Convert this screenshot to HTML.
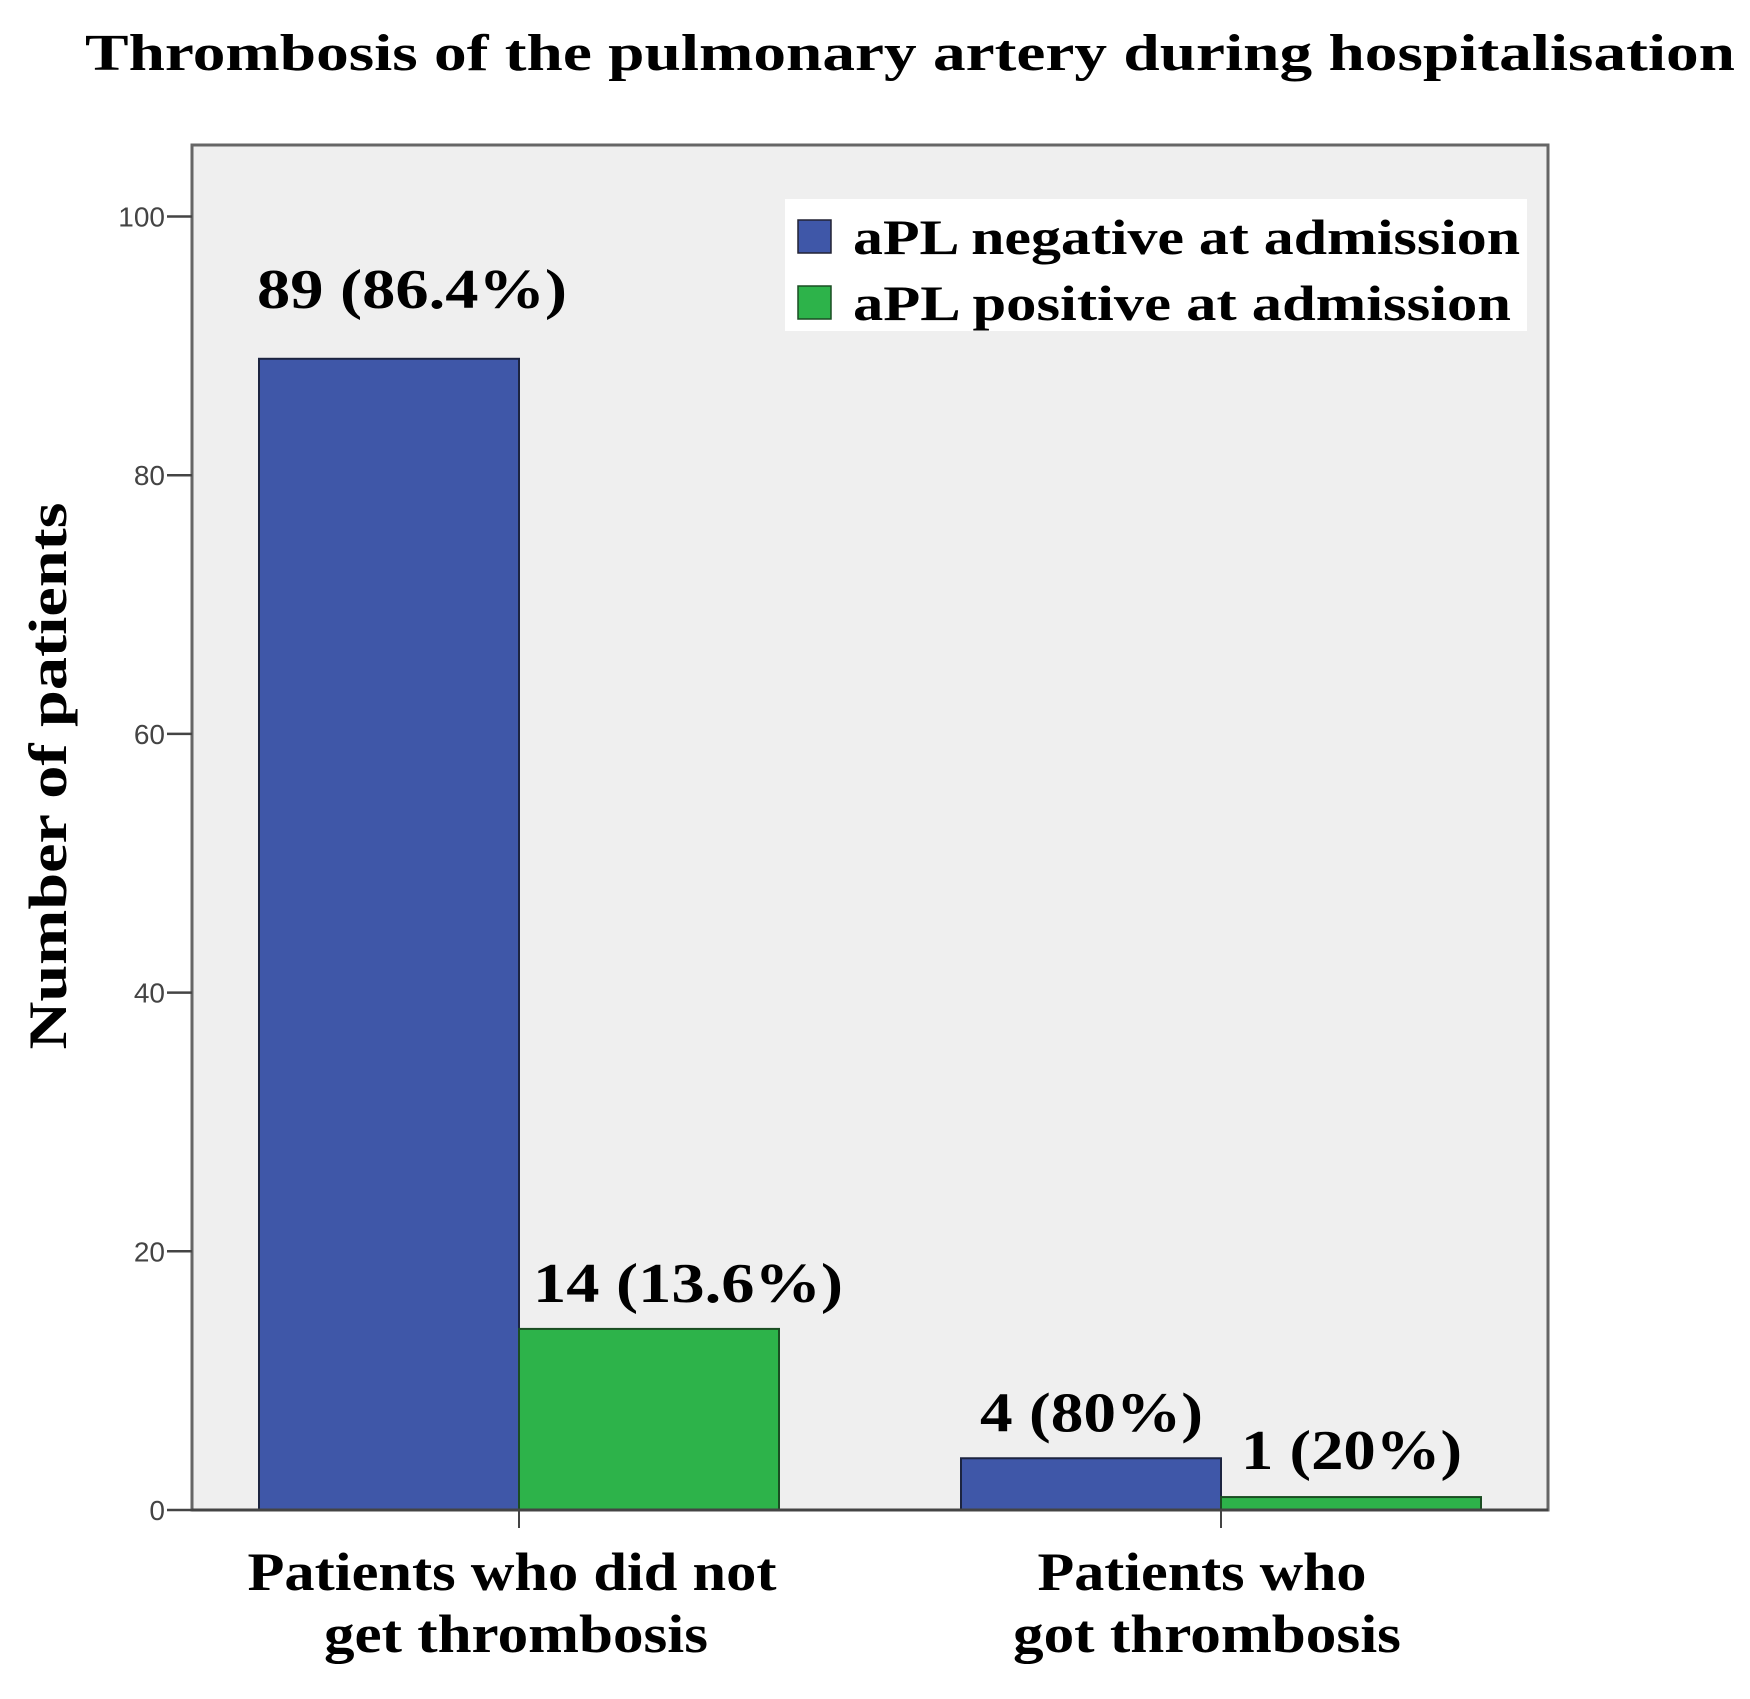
<!DOCTYPE html>
<html><head><meta charset="utf-8"><style>
html,body{margin:0;padding:0;background:#fff;}
svg{display:block;}
text{font-family:"Liberation Serif",serif;}
</style></head><body>
<svg id="chart" width="1750" height="1699" viewBox="0 0 1750 1699">
<text x="910" y="70" text-anchor="middle" font-size="52" font-weight="bold" textLength="1650" lengthAdjust="spacingAndGlyphs">Thrombosis of the pulmonary artery during hospitalisation</text>
<rect x="192" y="145" width="1356" height="1365" fill="#efefef" stroke="#666" stroke-width="3"/>
<g id="yaxis"></g>
<g id="bars"></g>
<g id="xaxis"></g>
<text transform="translate(66,776) rotate(-90)" text-anchor="middle" font-size="54" font-weight="bold" textLength="547" lengthAdjust="spacingAndGlyphs">Number of patients</text>
<g>
<rect x="785" y="199" width="742" height="132" fill="#fff"/>
<rect x="798" y="220" width="33" height="33" fill="#3f57a8" stroke="#223" stroke-width="1.5"/>
<text x="853" y="254" font-size="50" font-weight="bold" textLength="667" lengthAdjust="spacingAndGlyphs">aPL negative at admission</text>
<rect x="798" y="286" width="33" height="33" fill="#2db34a" stroke="#1a4d22" stroke-width="1.5"/>
<text x="853" y="320" font-size="50" font-weight="bold" textLength="658" lengthAdjust="spacingAndGlyphs">aPL positive at admission</text>
</g>
</svg>
<script>
const categories = [["Patients who did not","get thrombosis"],["Patients who","got thrombosis"]];
const negativeValues = [89, 4];
const positiveValues = [14, 1];
const negativeLabels = ["89 (86.4%)", "4 (80%)"];
const positiveLabels = ["14 (13.6%)", "1 (20%)"];
const yTicks = [0, 20, 40, 60, 80, 100];

const NS = "http://www.w3.org/2000/svg";
const y0 = 1510, y100 = 216.5;
function yScale(v){ return y0 - (y0 - y100) * v / 100; }
const catCenters = [519, 1221];
const barW = 260;
// layout tweaks (not data)
const negLabelLayout = [{dx:-2, w:310, up:51}, {dx:19, w:223, up:27}];
const posLabelLayout = [{dx:14, w:310, up:27}, {dx:20, w:221, up:28}];
const catLabelLayout = [[{c:512, w:529}, {c:516, w:384}], [{c:1202, w:329}, {c:1207, w:388}]];
function mk(tag, attrs, parent, text){
  const e = document.createElementNS(NS, tag);
  for (const k in attrs) e.setAttribute(k, attrs[k]);
  if (text !== undefined) e.textContent = text;
  parent.appendChild(e);
  return e;
}
const yaxis = document.getElementById('yaxis');
yTicks.forEach(t => {
  const y = yScale(t);
  const l = mk('line', {x1:167, x2:192, y1:y, y2:y, stroke:'#444', 'stroke-width':2.5}, yaxis);
  
  
  const tx = mk('text', {x:165, y:y+10, 'text-anchor':'end', 'font-size':28, fill:'#444', style:'font-family:"Liberation Sans",sans-serif'}, yaxis, String(t));
  
  
});
const bars = document.getElementById('bars');
categories.forEach((c, i) => {
  const cx = catCenters[i];
  const yn = yScale(negativeValues[i]);
  const b1 = mk('rect', {x:cx-barW, y:yn, width:barW, height:y0-yn, fill:'#3f57a8', stroke:'#1c2440', 'stroke-width':2}, bars);
  
  
  const yp = yScale(positiveValues[i]);
  const b2 = mk('rect', {x:cx, y:yp, width:barW, height:y0-yp, fill:'#2db34a', stroke:'#1a4d22', 'stroke-width':2}, bars);
  
  
  const nl = negLabelLayout[i];
  const l1 = mk('text', {x:cx-barW+nl.dx, y:yn-nl.up, 'font-size':56, 'font-weight':'bold', textLength:nl.w, lengthAdjust:'spacingAndGlyphs'}, bars, negativeLabels[i]);
  
  
  const pl = posLabelLayout[i];
  const l2 = mk('text', {x:cx+pl.dx, y:yp-pl.up, 'font-size':56, 'font-weight':'bold', textLength:pl.w, lengthAdjust:'spacingAndGlyphs'}, bars, positiveLabels[i]);
  
  
});
const xaxis = document.getElementById('xaxis');
const base = mk('line', {x1:192, x2:1548, y1:y0, y2:y0, stroke:'#444', 'stroke-width':3}, xaxis);


categories.forEach((c, i) => {
  const cx = catCenters[i];
  const t = mk('line', {x1:cx, x2:cx, y1:y0, y2:y0+18, stroke:'#444', 'stroke-width':2}, xaxis);
  
  
  c.forEach((line, j) => {
    const lay = catLabelLayout[i][j];
    const tx = mk('text', {x:lay.c, y:1590 + j*62, 'text-anchor':'middle', 'font-size':54, 'font-weight':'bold', textLength:lay.w, lengthAdjust:'spacingAndGlyphs'}, xaxis, line);
    
    
  });
});
</script>
</body></html>
